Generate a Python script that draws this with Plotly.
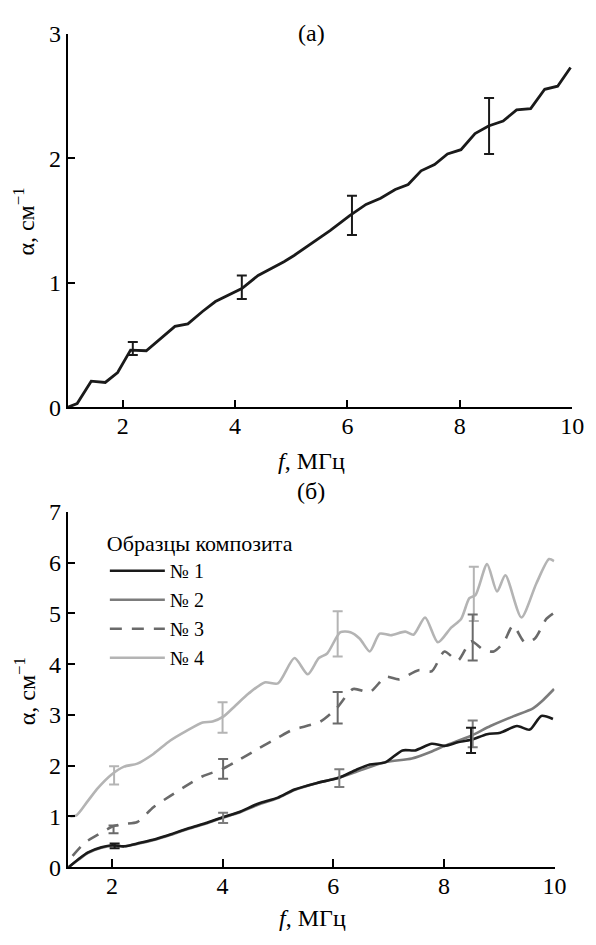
import plotly.graph_objects as go

# ---------- panel (a) ----------
fa = [1.02, 1.19, 1.44, 1.69, 1.91, 2.14, 2.42, 2.69, 2.93, 3.16, 3.42, 3.65, 3.88, 4.12, 4.41, 4.64,
      4.87, 5.05, 5.28, 5.69, 6.04, 6.33, 6.59, 6.85, 7.08, 7.31, 7.55, 7.78, 8.02, 8.27, 8.51, 8.77,
      9.01, 9.26, 9.51, 9.74, 9.97]
aa = [0.0, 0.03, 0.21, 0.20, 0.28, 0.46, 0.455, 0.56, 0.65, 0.67, 0.77, 0.85, 0.90, 0.955, 1.06, 1.115,
      1.17, 1.22, 1.29, 1.42, 1.54, 1.63, 1.68, 1.75, 1.79, 1.90, 1.95, 2.035, 2.07, 2.20, 2.26, 2.30,
      2.39, 2.40, 2.555, 2.58, 2.73]
err_a_x = [2.18, 4.12, 6.08, 8.52]
err_a_lo = [0.42, 0.87, 1.385, 2.035]
err_a_hi = [0.525, 1.06, 1.70, 2.485]

# ---------- panel (б) ----------
f1 = [1.22, 1.40, 1.57, 1.81, 2.01, 2.22, 2.51, 2.81, 3.10, 3.40, 3.70, 3.99, 4.29, 4.64, 5.0, 5.30,
      5.71, 6.09, 6.42, 6.66, 6.95, 7.25, 7.48, 7.78, 8.01, 8.25, 8.49, 8.78, 9.02, 9.32, 9.55, 9.76, 9.97]
a1 = [0.0, 0.16, 0.29, 0.39, 0.43, 0.41, 0.48, 0.56, 0.66, 0.77, 0.87, 0.98, 1.08, 1.25, 1.37, 1.53,
      1.66, 1.755, 1.92, 2.02, 2.07, 2.30, 2.30, 2.43, 2.39, 2.46, 2.51, 2.62, 2.65, 2.78, 2.71, 2.98, 2.92]

f2 = [1.22, 1.40, 1.57, 1.81, 2.01, 2.22, 2.51, 2.81, 3.10, 3.40, 3.70, 3.99, 4.29, 4.64, 5.0, 5.30,
      5.71, 6.09, 6.42, 6.95, 7.42, 7.78, 8.01, 8.49, 8.84, 9.25, 9.61, 9.79, 9.99]
a2 = [0.0, 0.15, 0.28, 0.38, 0.42, 0.41, 0.47, 0.55, 0.65, 0.76, 0.86, 0.97, 1.07, 1.23, 1.36, 1.52,
      1.66, 1.76, 1.88, 2.07, 2.14, 2.28, 2.39, 2.59, 2.78, 2.97, 3.13, 3.29, 3.51]

f3 = [1.29, 1.51, 1.75, 2.01, 2.22, 2.46, 2.75, 3.05, 3.34, 3.64, 3.99, 4.23, 4.64, 5.0, 5.27, 5.41,
      5.77, 6.06, 6.36, 6.66, 6.95, 7.19, 7.54, 7.78, 8.01, 8.25, 8.49, 8.72, 8.90, 9.08, 9.25, 9.46,
      9.64, 9.85, 9.99]
a3 = [0.22, 0.48, 0.64, 0.80, 0.85, 0.89, 1.18, 1.40, 1.60, 1.79, 1.93, 2.07, 2.33, 2.55, 2.71, 2.75,
      2.87, 3.13, 3.51, 3.45, 3.75, 3.70, 3.88, 3.86, 4.25, 4.07, 4.45, 4.28, 4.25, 4.43, 4.76, 4.43,
      4.50, 4.89, 5.01]

f4 = [1.25, 1.36, 1.57, 1.75, 1.99, 2.22, 2.46, 2.75, 3.05, 3.34, 3.64, 3.82, 4.02, 4.23, 4.47, 4.76,
      5.0, 5.30, 5.54, 5.74, 5.89, 6.13, 6.31, 6.48, 6.66, 6.84, 7.04, 7.30, 7.45, 7.66, 7.89, 8.13,
      8.31, 8.46, 8.57, 8.78, 8.96, 9.11, 9.40, 9.67, 9.90, 9.99]
a4 = [1.0, 1.02, 1.31, 1.56, 1.82, 1.98, 2.04, 2.23, 2.49, 2.68, 2.85, 2.87, 2.97, 3.18, 3.42, 3.64,
      3.62, 4.12, 3.80, 4.12, 4.21, 4.63, 4.63, 4.50, 4.25, 4.60, 4.57, 4.64, 4.58, 4.92, 4.43, 4.72,
      4.89, 5.30, 5.36, 5.97, 5.43, 5.75, 4.92, 5.59, 6.07, 6.03]

err1_x = [2.05, 8.49]; err1_lo = [0.37, 2.25]; err1_hi = [0.465, 2.745]
err2_x = [4.01, 6.11, 8.52]; err2_lo = [0.87, 1.58, 2.36]; err2_hi = [1.07, 1.93, 2.89]
err3_x = [2.03, 4.01, 6.08, 8.52]; err3_lo = [0.67, 1.74, 2.83, 4.07]; err3_hi = [0.82, 2.13, 3.45, 4.98]
err4_x = [2.04, 4.00, 6.08, 8.54]; err4_lo = [1.63, 2.65, 4.15, 4.85]; err4_hi = [1.99, 3.25, 5.04, 5.92]

names = ["№ 1", "№ 2", "№ 3", "№ 4"]
colors = ["#1a1a1a", "#7c7c7c", "#6a6a6a", "#b4b4b4"]
dashes = ["solid", "solid", "12px,10px", "solid"]

FONT = "'Liberation Serif', 'Times New Roman', 'DejaVu Serif', serif"
W, H = 596, 945

fig = go.Figure()


def err_trace(xs, lo, hi, color, xa, ya):
    mid = [(l + h) / 2 for l, h in zip(lo, hi)]
    half = [(h - l) / 2 for l, h in zip(lo, hi)]
    return go.Scatter(x=xs, y=mid, mode="markers", marker=dict(size=1, opacity=0),
                      error_y=dict(type="data", array=half, symmetric=True, color=color,
                                   thickness=2, width=5),
                      showlegend=False, hoverinfo="skip", xaxis=xa, yaxis=ya)


fig.add_trace(go.Scatter(x=fa, y=aa, mode="lines", line=dict(color="#1a1a1a", width=2.8),
                         showlegend=False, xaxis="x", yaxis="y"))
fig.add_trace(err_trace(err_a_x, err_a_lo, err_a_hi, "#1a1a1a", "x", "y"))

series = [(f1, a1), (f2, a2), (f3, a3), (f4, a4)]
errs = [(err1_x, err1_lo, err1_hi), (err2_x, err2_lo, err2_hi),
        (err3_x, err3_lo, err3_hi), (err4_x, err4_lo, err4_hi)]
order = [3, 2, 1, 0]
for i in order:
    fx, ay = series[i]
    fig.add_trace(go.Scatter(x=fx, y=ay, mode="lines", name=names[i],
                             line=dict(color=colors[i], width=2.6, dash=dashes[i], shape="spline",
                                       smoothing=0.7),
                             legendrank=i + 1, xaxis="x2", yaxis="y2"))
for i in order:
    ex, lo, hi = errs[i]
    fig.add_trace(err_trace(ex, lo, hi, colors[i], "x2", "y2"))

axis_common = dict(showline=True, linecolor="black", linewidth=1.5, ticks="inside", ticklen=8,
                   tickwidth=1.5, tickcolor="black", showgrid=False, zeroline=False,
                   tickfont=dict(family=FONT, size=24, color="black"))

fig.update_layout(
    width=W, height=H, margin=dict(l=0, r=0, t=0, b=0),
    paper_bgcolor="white", plot_bgcolor="white",
    font=dict(family=FONT, color="black"),
    xaxis=dict(domain=[69 / W, 584 / W], range=[1.02, 10], tickvals=[2, 4, 6, 8, 10],
               anchor="y", ticklabelstandoff=-4, **axis_common),
    yaxis=dict(domain=[1 - 405.5 / H, 1 - 21.5 / H], range=[0, 3], tickvals=[0, 1, 2, 3],
               anchor="x", **axis_common),
    xaxis2=dict(domain=[69 / W, 566 / W], range=[1.2, 10], tickvals=[2, 4, 6, 8, 10],
                anchor="y2", ticklabelstandoff=-4, **axis_common),
    yaxis2=dict(domain=[1 - 878.3 / H, 1 - 513 / H], range=[0, 7], tickvals=list(range(8)),
                anchor="x2", **axis_common),
    legend=dict(x=107 / W, y=1 - 524 / H, xanchor="left", yanchor="top",
                bgcolor="rgba(0,0,0,0)", itemwidth=55,
                font=dict(family=FONT, size=20, color="black"),
                title=dict(text="Образцы композита", font=dict(family=FONT, size=22, color="black"),
                           side="top"),
                traceorder="normal"),
    showlegend=True,
)

ann_font = dict(family=FONT, size=24, color="black")
annotations = [
    dict(text="(a)", x=318 / W, y=1 - 21 / H),
    dict(text="<i>f</i>, МГц", x=318 / W, y=1 - 461 / H),
    dict(text="(б)", x=317 / W, y=1 - 492 / H),
    dict(text="<i>f</i>, МГц", x=319 / W, y=1 - 931 / H),
    dict(text="α, см<sup>−1</sup>", x=25 / W, y=1 - 214 / H, textangle=-90),
    dict(text="α, см<sup>−1</sup>", x=25 / W, y=1 - 697 / H, textangle=-90),
]
for a in annotations:
    fig.add_annotation(xref="paper", yref="paper", showarrow=False, xanchor="center",
                       yanchor="middle", font=ann_font, **a)

fig.write_html("out.html")
